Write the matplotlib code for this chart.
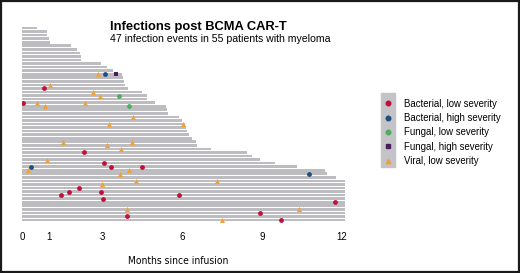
import matplotlib
matplotlib.use("Agg")
import matplotlib.pyplot as plt
from matplotlib.patches import Rectangle
from matplotlib.lines import Line2D

plt.rcParams['font.family'] = ['Liberation Sans', 'DejaVu Sans']

# follow-up (months) per patient, top row first
follow_up = [0.57, 0.93, 0.95, 1.0, 1.05, 1.84, 2.05, 2.17, 2.22, 2.22,
             2.95, 3.2, 3.4, 3.75, 3.8, 3.82, 3.85, 3.96, 4.49, 4.67,
             4.70, 4.99, 5.40, 5.42, 5.46, 5.88, 5.99, 6.1, 6.15, 6.17,
             6.28, 6.38, 6.51, 6.55, 7.07, 8.42, 8.61, 8.93, 9.49, 10.32,
             11.36, 11.45, 11.76, 12.1, 12.1, 12.1, 12.1, 12.1, 12.1, 12.1,
             12.1, 12.1, 12.1, 12.1, 12.1]

# infection events: month, patient row
bact_low_x = [0.82, 0.03, 2.33, 3.07, 3.34, 4.5, 2.14, 1.75, 1.45, 2.97,
              3.05, 5.9, 3.94, 11.74, 8.92, 9.71]
bact_low_row = [17, 21, 35, 38, 39, 39, 45, 46, 47, 46,
                48, 47, 53, 49, 52, 54]
bact_high_x = [3.12, 0.33, 10.77]
bact_high_row = [13, 39, 41]
fung_low_x = [3.64, 4.0]
fung_low_row = [19, 22]
fung_high_x = [3.52]
fung_high_row = [13]
viral_x = [2.86, 1.05, 2.67, 2.92, 0.57, 0.85, 2.37, 4.15, 3.27, 6.05,
           1.55, 3.17, 4.14, 3.7, 0.95, 0.24, 3.67, 4.02, 4.26, 3.01,
           3.92, 7.32, 10.37, 7.51]
viral_row = [13, 16, 18, 19, 21, 22, 21, 25, 27, 27,
             32, 33, 32, 34, 37, 40, 41, 40, 43, 44,
             51, 43, 51, 54]

xticks = [0, 1, 3, 6, 9, 12]
labels = ['Bacterial, low severity', 'Bacterial, high severity',
          'Fungal, low severity', 'Fungal, high severity', 'Viral, low severity']
colors = ['#c0103a', '#1d4f7c', '#4cae62', '#4a1d5c', '#f0a23a']
markers = ['o', 'o', 'o', 's', '^']

fig = plt.figure(figsize=(5.2, 2.73), dpi=100)
ax = fig.add_axes([22 / 520, 0.1864, 328 / 520, 0.7187])

rows = list(range(len(follow_up)))
ax.barh(rows, follow_up, height=0.74, color='#bdbdc1', left=0)

series = [(bact_low_x, bact_low_row), (bact_high_x, bact_high_row),
          (fung_low_x, fung_low_row), (fung_high_x, fung_high_row),
          (viral_x, viral_row)]
for (xs, ys), c, m in zip(series, colors, markers):
    ax.scatter(xs, ys, s=12 if m != '^' else 14, c=c, marker=m, linewidths=0, zorder=3)

ax.set_xlim(0, 12.3)
ax.set_ylim(54.6, -0.6)
ax.set_xticks(xticks)
ax.set_yticks([])
ax.tick_params(axis='x', length=0, pad=7, labelsize=7)
for s in ax.spines.values():
    s.set_visible(False)
ax.set_xlabel('Months since infusion', fontsize=7.4, labelpad=10,
              family='DejaVu Sans', fontstretch='condensed')
ax.xaxis.label.set_x(0.476)

fig.text(110 / 520, 1 - 29.5 / 273, 'Infections post BCMA CAR-T',
         fontsize=9.3, fontweight='bold', va='baseline')
fig.text(110 / 520, 1 - 41.5 / 273, '47 infection events in 55 patients with myeloma',
         fontsize=7.6, va='baseline')

# legend with gray marker strip
fig.patches.append(Rectangle((381 / 520, 1 - 167 / 273), 14 / 520, 74 / 273,
                             transform=fig.transFigure, color='#c4c4c8', zorder=0))
handles = [Line2D([], [], ls='none', marker=m, color=c, markersize=3.3)
           for m, c in zip(markers, colors)]
fig.legend(handles, labels, loc='upper left', bbox_to_anchor=(376 / 520, 1 - 92 / 273),
           frameon=False, fontsize=6.9, handlelength=1.2, handletextpad=1.0,
           labelspacing=0.45, borderpad=0.2)

fig.patches.append(Rectangle((0.002, 0.004), 0.996, 0.992, transform=fig.transFigure,
                             fill=False, edgecolor='#1a1a1a', lw=1.6))

fig.savefig('out.png', dpi=100)
